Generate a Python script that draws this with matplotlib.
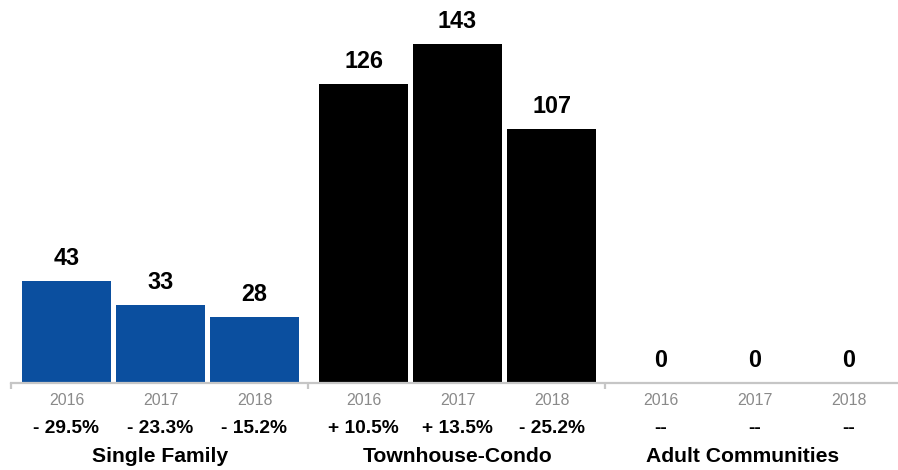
import matplotlib
matplotlib.use("Agg")
import matplotlib.pyplot as plt

plt.rcParams['font.family'] = ['Liberation Sans', 'DejaVu Sans']

groups = ["Single Family", "Townhouse-Condo", "Adult Communities"]
years = ["2016", "2017", "2018"]
values = [
    [43, 33, 28],
    [126, 143, 107],
    [0, 0, 0],
]
changes = [
    ["- 29.5%", "- 23.3%", "- 15.2%"],
    ["+ 10.5%", "+ 13.5%", "- 25.2%"],
    ["--", "--", "--"],
]
colors = ["#0b4f9f", "#000000", "#000000"]
name_shift = [0, 0, -12]  # horizontal nudge of group titles, in pixels

W, H = 898, 470
fig = plt.figure(figsize=(W / 100, H / 100), dpi=100)
ax = fig.add_axes([11 / W, 87 / H, 887 / W, 383 / H])

group_step = 3.16
bar_width = 0.95
left = -0.59

for g, (name, vals, chg) in enumerate(zip(groups, values, changes)):
    xs = [g * group_step + j for j in range(len(vals))]
    ax.bar(xs, vals, width=bar_width, color=colors[g], zorder=1)
    for x, v, yr, c in zip(xs, vals, years, chg):
        ax.annotate(f"{v}", xy=(x, v), xytext=(0, 16), textcoords="offset pixels",
                    ha="center", va="baseline", fontsize=16.8, fontweight="bold")
        ax.annotate(yr, xy=(x, 0), xytext=(0, -22), textcoords="offset pixels",
                    ha="center", va="baseline", fontsize=11.4, color="#8a8a8a")
        ax.annotate(c, xy=(x, 0), xytext=(0, -50), textcoords="offset pixels",
                    ha="center", va="baseline", fontsize=13.8, fontweight="bold")
    ax.annotate(name, xy=(xs[1], 0), xytext=(name_shift[g], -79),
                textcoords="offset pixels", ha="center", va="baseline",
                fontsize=15.2, fontweight="bold")

ax.set_xlim(left, left + 887 / 94)
ax.set_ylim(0, 383 / 2.37)

for s in ["top", "right", "left"]:
    ax.spines[s].set_visible(False)
ax.spines["bottom"].set_color("#c6c6c6")
ax.spines["bottom"].set_linewidth(1.6)
ax.spines["bottom"].set_zorder(3)

ax.set_xticks([left + g * group_step for g in range(3)])
ax.set_xticklabels([])
ax.tick_params(axis="x", length=4, width=1.6, color="#c6c6c6", direction="out")
ax.set_yticks([])
ax.patch.set_alpha(0)

fig.savefig("out.png", dpi=100)
